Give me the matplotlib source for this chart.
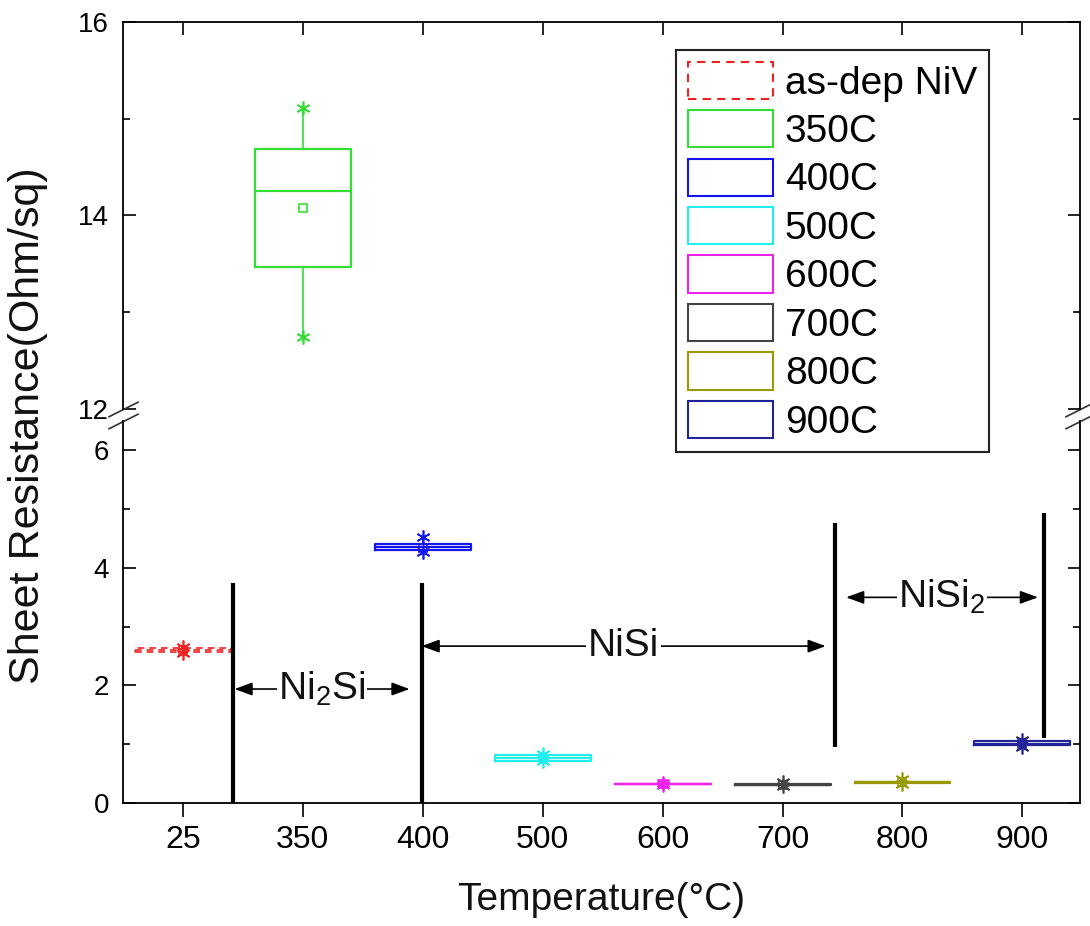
import matplotlib
matplotlib.use("Agg")
import matplotlib.pyplot as plt
from matplotlib.patches import Patch

plt.rcParams['font.family'] = ['Liberation Sans', 'DejaVu Sans']
plt.rcParams['mathtext.fontset'] = 'custom'
plt.rcParams['mathtext.rm'] = 'Liberation Sans'

# categories along x
temps = ['25', '350', '400', '500', '600', '700', '800', '900']
series = ['as-dep NiV', '350C', '400C', '500C', '600C', '700C', '800C', '900C']
colors = ['#ee2222', '#33dd33', '#1414ee', '#22eeee', '#ee22ee', '#444444', '#999900', '#222299']

# box statistics (Ohm/sq)
q1 = [2.57, 13.47, 4.30, 0.71, 0.32, 0.30, 0.34, 0.98]
med = [2.60, 14.25, 4.35, 0.76, 0.32, 0.31, 0.35, 1.01]
q3 = [2.63, 14.69, 4.40, 0.81, 0.33, 0.32, 0.36, 1.05]
mean = [2.60, 14.08, 4.34, 0.76, 0.32, 0.31, 0.35, 1.01]
lo = [2.56, 12.74, 4.27, 0.72, 0.31, 0.29, 0.33, 0.96]
hi = [2.66, 15.11, 4.52, 0.84, 0.34, 0.35, 0.41, 1.07]

# phase boundary lines (x position, bottom, top)
bound_x = [1.42, 2.99, 6.44, 8.18]
bound_lo = [0.0, 0.0, 0.95, 1.10]
bound_hi = [3.74, 3.74, 4.77, 4.93]

# phase labels with double arrows
phase_names = ['Ni$_\\mathregular{2}$Si', 'NiSi', 'NiSi$_\\mathregular{2}$']
phase_x0 = [1.43, 2.99, 6.53]
phase_x1 = [2.89, 6.36, 8.13]
phase_y = [1.94, 2.67, 3.50]

fig = plt.figure(figsize=(10.9, 9.26), dpi=100)
ax_top = fig.add_axes([0.1128, 0.5583, 0.878, 0.418])
ax_bot = fig.add_axes([0.1128, 0.1328, 0.878, 0.4125])

positions = list(range(1, len(temps) + 1))
stats = []
for i in range(len(temps)):
    stats.append({'med': med[i], 'q1': q1[i], 'q3': q3[i], 'whislo': lo[i],
                  'whishi': hi[i], 'mean': mean[i], 'fliers': [lo[i], hi[i]]})

for ax in (ax_top, ax_bot):
    art = ax.bxp(stats, positions=positions, widths=0.8, showmeans=True,
                 showcaps=False, showfliers=True, manage_ticks=False)
    for i, c in enumerate(colors):
        ls = (0, (4, 3)) if i == 0 else '-'
        lw = 1.2 if i == 0 else 1.6
        art['boxes'][i].set(color=c, lw=lw, ls=ls)
        art['medians'][i].set(color=c, lw=lw, ls=ls)
        art['whiskers'][2 * i].set(color=c, lw=1.2)
        art['whiskers'][2 * i + 1].set(color=c, lw=1.2)
        art['means'][i].set(marker='s', markerfacecolor='none', markeredgecolor=c,
                            markersize=6, markeredgewidth=1.2)
        art['fliers'][i].set(marker=(6, 2, 0), markeredgecolor=c, markersize=10,
                             markeredgewidth=1.2)

ax_top.set_ylim(12, 16)
ax_bot.set_ylim(0, 6.5)
for ax in (ax_top, ax_bot):
    ax.set_xlim(0.5, 8.48)
    for s in ax.spines.values():
        s.set_linewidth(1.3)

ax_top.spines['bottom'].set_visible(False)
ax_bot.spines['top'].set_visible(False)

ax_top.set_yticks([12, 14, 16])
ax_top.set_yticks([13, 15], minor=True)
ax_top.set_xticks(positions)
ax_top.tick_params(axis='x', which='both', bottom=False, top=True, labelbottom=False,
                   direction='in', length=9, width=1.2)
ax_top.tick_params(axis='y', which='major', left=True, right=True, direction='in',
                   length=9, width=1.2, labelsize=20, pad=10)
ax_top.tick_params(axis='y', which='minor', left=True, right=True, direction='in',
                   length=5, width=1.2)

ax_bot.set_yticks([0, 2, 4, 6])
ax_bot.set_yticks([1, 3, 5], minor=True)
ax_bot.set_xticks(positions)
ax_bot.set_xticklabels(temps)
ax_bot.tick_params(axis='x', which='both', bottom=True, top=False, direction='out',
                   length=10, width=1.2, labelsize=23, pad=6)
ax_bot.tick_params(axis='y', which='major', left=True, right=True, direction='in',
                   length=9, width=1.2, labelsize=20, pad=10)
ax_bot.tick_params(axis='y', which='minor', left=True, right=True, direction='in',
                   length=5, width=1.2)

# break marks on the y spines
kw = dict(marker=[(-1, -0.5), (1, 0.5)], markersize=22, linestyle='none',
          color='#333333', mec='#333333', mew=1.2, clip_on=False)
ax_top.plot([0, 1], [0, 0], transform=ax_top.transAxes, **kw)
ax_bot.plot([0, 1], [1, 1], transform=ax_bot.transAxes, **kw)

# phase boundaries and labels
ax_bot.vlines(bound_x, bound_lo, bound_hi, colors='black', lw=3, clip_on=False)
for name, x0, x1, y in zip(phase_names, phase_x0, phase_x1, phase_y):
    ax_bot.annotate('', xy=(x0, y), xytext=(x1, y),
                    arrowprops=dict(arrowstyle='<|-|>,head_length=0.6,head_width=0.22',
                                    color='black', lw=1.2, shrinkA=0, shrinkB=0,
                                    mutation_scale=18))
    ax_bot.text((x0 + x1) / 2, y, name, fontsize=28, ha='center', va='center',
                color='#111111',
                bbox=dict(facecolor='white', edgecolor='none', pad=1))

handles = []
for i, c in enumerate(colors):
    handles.append(Patch(facecolor='white', edgecolor=c, lw=1.5,
                         linestyle=(0, (4, 3)) if i == 0 else '-'))
leg = fig.legend(handles, series, loc='upper left',
                 bbox_to_anchor=(676 / 1090, 1 - 50 / 926),
                 fontsize=28, handlelength=2.2, handleheight=1.1, labelspacing=0.22,
                 handletextpad=0.3, borderpad=0.3, borderaxespad=0,
                 fancybox=False, framealpha=1)
leg.get_frame().set_edgecolor('#222222')
leg.get_frame().set_linewidth(1.5)

fig.text(0.026, 1 - 426 / 926, 'Sheet Resistance(Ohm/sq)', rotation=90, fontsize=31,
         ha='center', va='center', color='#111111')
fig.text(601 / 1090, 1 - 900 / 926, 'Temperature(°C)', fontsize=28,
         ha='center', va='center', color='#111111')

fig.savefig('out.png', dpi=100)
